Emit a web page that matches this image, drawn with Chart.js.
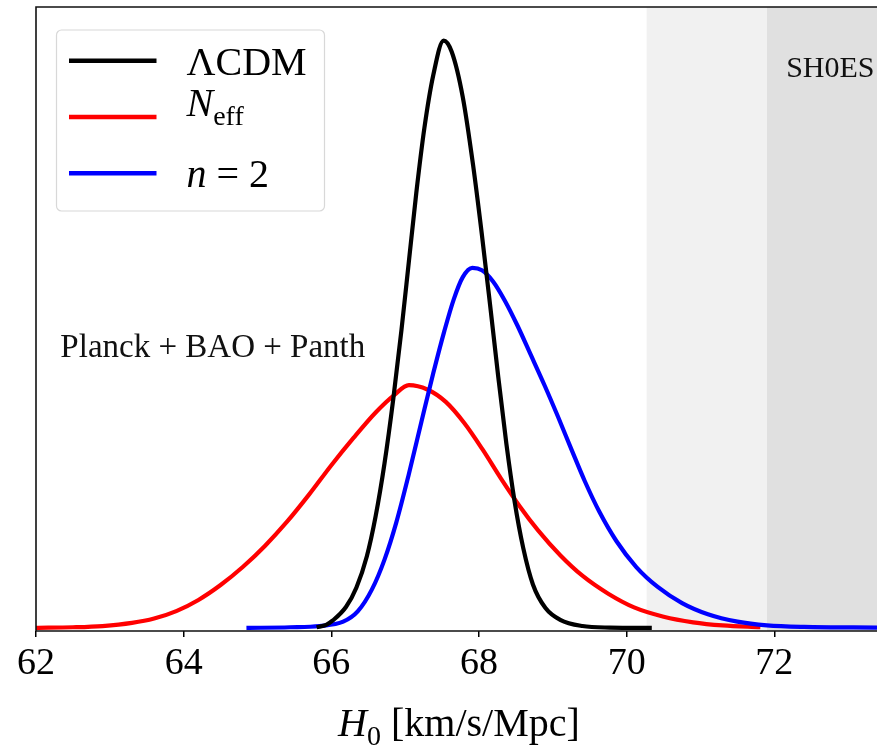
<!DOCTYPE html>
<html>
<head>
<meta charset="utf-8">
<title>H0 posteriors</title>
<script src="https://cdn.jsdelivr.net/npm/chart.js@4.4.1/dist/chart.umd.min.js"></script>
<style>
  html, body { margin: 0; padding: 0; background: #fff; }
  #wrap { width: 877px; height: 745px; }
</style>
</head>
<body>
<div id="wrap"><canvas id="h0Chart" width="877" height="745"></canvas></div>
<script>
// H0 samples [km/s/Mpc] and normalised posterior heights, one pair of arrays per model
const h0Lcdm = [65.80, 65.93, 66.02, 66.20, 66.34, 66.48, 66.60, 66.72, 66.84, 66.95, 67.05, 67.15, 67.26, 67.38, 67.52,
                67.63, 67.78, 67.92, 68.04, 68.15, 68.26, 68.37, 68.48, 68.60, 68.73, 68.90, 69.10, 69.40, 69.77, 70.34];
const pLcdm  = [0.001, 0.005, 0.012, 0.034, 0.065, 0.115, 0.180, 0.265, 0.370, 0.480, 0.590, 0.700, 0.805, 0.890, 0.946,
                0.928, 0.855, 0.745, 0.632, 0.520, 0.405, 0.297, 0.205, 0.128, 0.070, 0.032, 0.013, 0.003, 0.0005, 0];

const h0Neff = [62.00, 62.50, 62.90, 63.30, 63.60, 63.90, 64.20, 64.50, 64.80, 65.10, 65.40, 65.70, 66.00, 66.30, 66.60,
                66.85, 67.05, 67.30, 67.55, 67.80, 68.05, 68.30, 68.55, 68.80, 69.10, 69.40, 69.75, 70.10, 70.50, 70.90,
                71.30, 71.81];
const pNeff  = [0, 0.001, 0.003, 0.008, 0.015, 0.027, 0.045, 0.069, 0.098, 0.132, 0.171, 0.215, 0.262, 0.306, 0.347,
                0.375, 0.391, 0.384, 0.364, 0.330, 0.287, 0.240, 0.196, 0.157, 0.117, 0.084, 0.055, 0.033, 0.018, 0.009,
                0.004, 0.001];

const h0N2 = [64.85, 65.44, 65.84, 66.16, 66.36, 66.55, 66.72, 66.88, 67.05, 67.22, 67.38, 67.53, 67.66, 67.78, 67.91,
              68.04, 68.19, 68.35, 68.52, 68.70, 68.89, 69.07, 69.25, 69.43, 69.63, 69.86, 70.13, 70.42, 70.75, 71.10,
              71.50, 71.90, 72.40, 73.39];
const pN2  = [0, 0.001, 0.003, 0.010, 0.027, 0.062, 0.110, 0.170, 0.248, 0.332, 0.410, 0.478, 0.530, 0.565, 0.580,
              0.576, 0.558, 0.527, 0.487, 0.440, 0.390, 0.340, 0.288, 0.237, 0.187, 0.140, 0.098, 0.066, 0.040, 0.022,
              0.010, 0.004, 0.0015, 0.0005];

const xTicks = [62, 64, 66, 68, 70, 72];

// SH0ES 2 sigma and 1 sigma bands (lower edge, upper edge)
const shoesBands = [[70.27, 73.39], [71.90, 73.39]];

const X_MIN = 62, X_MAX = 73.39;
const SERIF = '"Liberation Serif", "DejaVu Serif", serif';

function toPoints(xs, ys) {
  return xs.map((x, i) => ({ x: x, y: ys[i] }));
}

// pieces of mixed italic / subscript text
const legendLabels = [
  [{ text: 'ΛCDM' }],
  [{ text: 'N', italic: true }, { text: 'eff', sub: true }],
  [{ text: 'n', italic: true }, { text: ' = 2' }]
];
const xTitle = [{ text: 'H', italic: true }, { text: '0', sub: true }, { text: ' [km/s/Mpc]' }];

function fontFor(p, size) {
  const s = p.sub ? size * 0.7 : size;
  return (p.italic ? 'italic ' : '') + Math.round(s) + 'px ' + SERIF;
}

function richWidth(ctx, parts, size) {
  let w = 0;
  parts.forEach(p => { ctx.font = fontFor(p, size); w += ctx.measureText(p.text).width; });
  return w;
}

function drawRich(ctx, parts, x, y, size) {
  let cx = x;
  parts.forEach(p => {
    ctx.font = fontFor(p, size);
    ctx.fillText(p.text, cx, p.sub ? y + size * 0.22 : y);
    cx += ctx.measureText(p.text).width;
  });
}

const decorations = {
  id: 'decorations',
  beforeDatasetsDraw(chart) {
    const { ctx, chartArea: a, scales: { x } } = chart;
    const fills = ['#f1f1f1', '#e0e0e0'];
    ctx.save();
    shoesBands.forEach((b, i) => {
      const x0 = x.getPixelForValue(b[0]);
      const x1 = Math.min(x.getPixelForValue(b[1]), a.right);
      ctx.fillStyle = fills[i];
      ctx.fillRect(x0, a.top, x1 - x0, a.bottom - a.top);
    });
    ctx.restore();
  },
  afterDatasetsDraw(chart) {
    const { ctx, chartArea: a, scales: { x, y } } = chart;
    ctx.save();

    // spines
    ctx.strokeStyle = '#111';
    ctx.lineWidth = 1.6;
    ctx.beginPath();
    ctx.moveTo(a.left, a.bottom);
    ctx.lineTo(a.left, a.top);
    ctx.lineTo(a.right + 2, a.top);
    ctx.moveTo(a.left, a.bottom);
    ctx.lineTo(a.right + 2, a.bottom);
    ctx.stroke();

    // annotations
    ctx.fillStyle = '#111';
    ctx.textBaseline = 'alphabetic';
    ctx.textAlign = 'left';
    ctx.font = '33px ' + SERIF;
    ctx.fillText('Planck + BAO + Panth', x.getPixelForValue(62.33), y.getPixelForValue(0.437));
    ctx.font = '30px ' + SERIF;
    ctx.fillText('SH0ES', x.getPixelForValue(72.16), y.getPixelForValue(0.887));

    // legend
    const bx = a.left + 20.5, by = a.top + 23, bw = 268, bh = 181;
    ctx.fillStyle = 'rgba(255,255,255,0.85)';
    ctx.strokeStyle = '#d8d8d8';
    ctx.lineWidth = 1.2;
    ctx.beginPath();
    ctx.roundRect(bx, by, bw, bh, 5);
    ctx.fill();
    ctx.stroke();

    const size = 40;
    const offsets = [14, -1, 14];
    chart.data.datasets.forEach((ds, i) => {
      const ly = by + 30.7 + i * 56.3;
      ctx.strokeStyle = ds.borderColor;
      ctx.lineWidth = 4.5;
      ctx.beginPath();
      ctx.moveTo(bx + 12.5, ly);
      ctx.lineTo(bx + 100, ly);
      ctx.stroke();
      ctx.fillStyle = '#000';
      drawRich(ctx, legendLabels[i], bx + 130, ly + offsets[i], size);
    });
    ctx.restore();
  },
  afterDraw(chart) {
    const { ctx, chartArea: a } = chart;
    ctx.save();
    ctx.fillStyle = '#000';
    ctx.textBaseline = 'alphabetic';
    ctx.textAlign = 'left';
    const w = richWidth(ctx, xTitle, 40);
    drawRich(ctx, xTitle, 459 - w / 2, a.bottom + 105, 40);
    ctx.restore();
  }
};

const ctx = document.getElementById('h0Chart').getContext('2d');
new Chart(ctx, {
  type: 'line',
  data: {
    datasets: [
      { label: 'ΛCDM', data: toPoints(h0Lcdm, pLcdm), borderColor: '#000000', order: 1 },
      { label: 'N_eff', data: toPoints(h0Neff, pNeff), borderColor: '#ff0000', order: 3 },
      { label: 'n = 2', data: toPoints(h0N2, pN2), borderColor: '#0000ff', order: 2 }
    ]
  },
  options: {
    responsive: false,
    animation: false,
    devicePixelRatio: 1,
    layout: { padding: { left: 36, top: 7, right: 0, bottom: 0 } },
    elements: {
      line: { borderWidth: 4.2, cubicInterpolationMode: 'monotone', fill: false },
      point: { radius: 0 }
    },
    plugins: { legend: { display: false }, tooltip: { enabled: false } },
    scales: {
      x: {
        type: 'linear',
        min: X_MIN,
        max: X_MAX,
        afterBuildTicks: s => { s.ticks = xTicks.map(v => ({ value: v })); },
        afterFit: s => { s.height = 114; },
        ticks: {
          color: '#000',
          font: { family: SERIF, size: 38 },
          padding: 4,
          maxRotation: 0,
          autoSkip: false,
          callback: v => String(v)
        },
        grid: { drawOnChartArea: false, drawTicks: true, tickLength: 6, color: '#000', lineWidth: 1.5 },
        border: { display: false }
      },
      y: { display: false, min: -0.005, max: 1 }
    }
  },
  plugins: [decorations]
});
</script>
</body>
</html>
